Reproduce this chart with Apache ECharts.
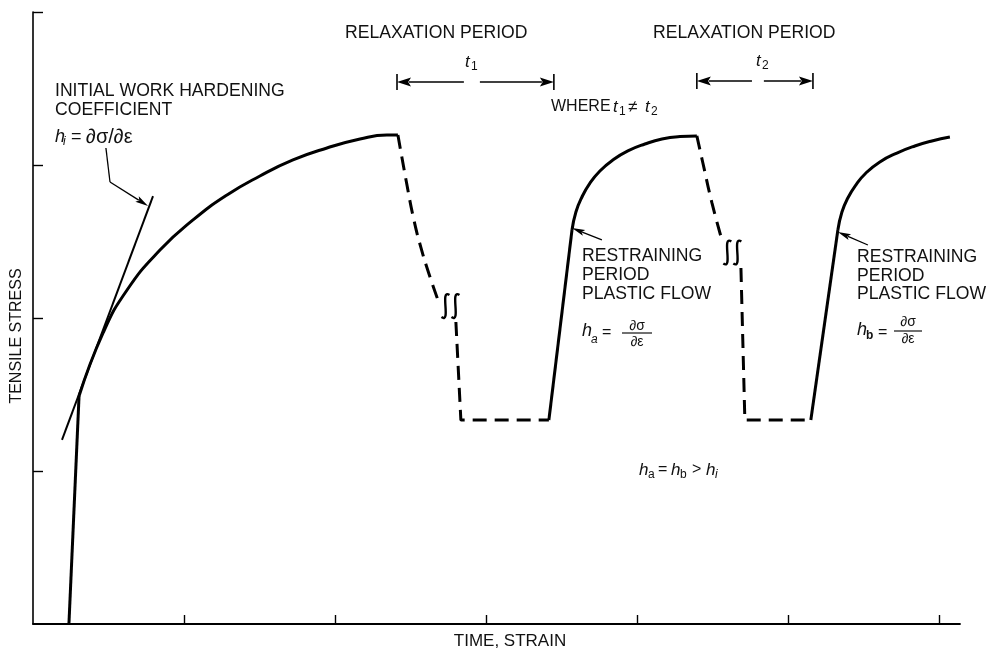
<!DOCTYPE html>
<html><head><meta charset="utf-8">
<script src="https://cdn.jsdelivr.net/npm/echarts@6/dist/echarts.min.js"></script>
<style>html,body{margin:0;padding:0;background:#fff}#c{width:986px;height:651px}</style>
</head><body><div id="c"></div>
<script>
// ---- data (axis units: x = time/strain, y = tensile stress) ----
const xTicks = [1, 2, 3, 4, 5, 6];
const yTicks = [1, 2, 3, 4];
const rise1 = [[0.238, 0], [0.305, 1.490]];
const harden1 = [[0.305, 1.490], [0.464, 1.902], [0.623, 2.183], [0.841, 2.444], [1.060, 2.641], [1.285, 2.804], [1.503, 2.928], [1.722, 3.033], [1.947, 3.111], [2.166, 3.170], [2.344, 3.196], [2.417, 3.196]];
const relax1Drop = [[2.417, 3.196], [2.477, 2.869], [2.523, 2.641], [2.570, 2.458], [2.623, 2.288], [2.682, 2.118]];
const relax1Hold = [[2.801, 1.974], [2.834, 1.333], [3.417, 1.333]];
const reload1 = [[3.417, 1.333], [3.570, 2.575]];
const harden2 = [[3.570, 2.575], [3.596, 2.693], [3.636, 2.791], [3.689, 2.882], [3.755, 2.961], [3.841, 3.033], [3.940, 3.092], [4.053, 3.137], [4.166, 3.170], [4.285, 3.186], [4.397, 3.190]];
const relax2Drop = [[4.397, 3.190], [4.437, 3.013], [4.497, 2.752], [4.563, 2.510]];
const relax2Hold = [[4.689, 2.327], [4.715, 1.333], [5.152, 1.333]];
const reload2 = [[5.152, 1.333], [5.331, 2.575]];
const harden3 = [[5.331, 2.575], [5.358, 2.693], [5.397, 2.784], [5.450, 2.869], [5.517, 2.948], [5.609, 3.020], [5.722, 3.078], [5.841, 3.124], [5.954, 3.157], [6.073, 3.183]];
const tangent = [[0.192, 1.203], [0.795, 2.797]];
const leader = [[0.483, 3.111], [0.510, 2.889]];
// annotation arrows [x1, y1, x2(tip), y2(tip)]
const leaderArrows = [[0.510, 2.889, 0.762, 2.732], [3.768, 2.510, 3.570, 2.588], [5.530, 2.477, 5.331, 2.562]];
const periodArrows = [[2.854, 3.542, 2.411, 3.542], [2.960, 3.542, 3.450, 3.542], [4.762, 3.549, 4.397, 3.549], [4.841, 3.549, 5.166, 3.549]];
const periodBars = [[2.411, 3.490, 2.411, 3.595], [3.450, 3.490, 3.450, 3.595], [4.397, 3.497, 4.397, 3.602], [5.166, 3.497, 5.166, 3.602]];
const breakMarks = [[2.765, 2.078], [4.632, 2.428]];

const FONT = "'Liberation Sans', Arial, sans-serif";
const INK = '#111';

function solid(data, smooth, w) {
  return { type: 'line', data, smooth: smooth || false, symbol: 'none', silent: true,
    lineStyle: { color: '#000', width: w || 3 }, z: 3 };
}
function dashed(data, smooth) {
  return { type: 'line', data, smooth: smooth || false, symbol: 'none', silent: true,
    lineStyle: { color: '#000', width: 3, type: [14, 8] }, z: 3 };
}
function arrowRender(hl, hw, lw) {
  return function (params, api) {
    const a = api.coord([api.value(0), api.value(1)]);
    const b = api.coord([api.value(2), api.value(3)]);
    const dx = b[0] - a[0], dy = b[1] - a[1], L = Math.hypot(dx, dy);
    const ux = dx / L, uy = dy / L;
    const bx = b[0] - ux * hl, by = b[1] - uy * hl;
    return { type: 'group', children: [
      { type: 'line', shape: { x1: a[0], y1: a[1], x2: bx + ux * 2, y2: by + uy * 2 }, style: { stroke: '#000', lineWidth: lw } },
      { type: 'polygon', shape: { points: [[b[0], b[1]], [bx - uy * hw, by + ux * hw], [b[0] - ux * hl * 0.8, b[1] - uy * hl * 0.8], [bx + uy * hw, by - ux * hw]] }, style: { fill: '#000' } }
    ] };
  };
}
function barRender(params, api) {
  const a = api.coord([api.value(0), api.value(1)]);
  const b = api.coord([api.value(2), api.value(3)]);
  return { type: 'line', shape: { x1: a[0], y1: a[1], x2: b[0], y2: b[1] }, style: { stroke: '#000', lineWidth: 1.6 } };
}
function breakRender(params, api) {
  const c = api.coord([api.value(0), api.value(1)]);
  const kids = [];
  [-5, 5].forEach(function (off) {
    const cx = c[0] + off, cy = c[1];
    kids.push({ type: 'bezierCurve', shape: { x1: cx + 4, y1: cy - 11, cpx1: cx - 6, cpy1: cy - 18, cpx2: cx + 6, cpy2: cy + 18, x2: cx - 4, y2: cy + 11 },
      style: { stroke: '#000', lineWidth: 2.4, fill: null } });
  });
  return { type: 'group', children: kids };
}

const series = [
  solid(rise1), solid(harden1, 0.5), dashed(relax1Drop, 0.5), dashed(relax1Hold),
  solid(reload1), solid(harden2, 0.5), dashed(relax2Drop, 0.5), dashed(relax2Hold),
  solid(reload2), solid(harden3, 0.5), solid(tangent, false, 2), solid(leader, false, 1.3),
  { type: 'custom', data: leaderArrows, renderItem: arrowRender(13, 3.2, 1.3), silent: true, encode: { x: [0, 2], y: [1, 3] }, z: 4 },
  { type: 'custom', data: periodArrows, renderItem: arrowRender(14, 4.5, 1.4), silent: true, encode: { x: [0, 2], y: [1, 3] }, z: 4 },
  { type: 'custom', data: periodBars, renderItem: barRender, silent: true, encode: { x: [0, 2], y: [1, 3] }, z: 4 },
  { type: 'custom', data: breakMarks, renderItem: breakRender, silent: true, encode: { x: 0, y: 1 }, z: 4 }
];

function T(x, y, text, font, extra) {
  return Object.assign({ type: 'text', x: x, y: y, silent: true, z: 10,
    style: { text: text, font: font, fill: INK, align: 'left', verticalAlign: 'middle' } }, extra || {});
}
const F17 = '17.6px ' + FONT, F16 = '16px ' + FONT, I18 = 'italic 18px ' + FONT, I17 = 'italic 17px ' + FONT,
  S11 = 'italic 12px ' + FONT, F14 = '14px ' + FONT, N12 = '12px ' + FONT;
function hline(x1, x2, y) { return { type: 'line', silent: true, z: 10, shape: { x1: x1, y1: y, x2: x2, y2: y }, style: { stroke: INK, lineWidth: 1.2 } }; }
function C(x, y, text, font, extra) { const t = T(x, y, text, font, extra); t.style.align = 'center'; return t; }

const graphics = [
  T(55, 91, 'INITIAL WORK HARDENING', F17),
  T(55, 110, 'COEFFICIENT', F17),
  T(55, 137, 'h', I18), T(63, 142, 'i', S11), T(71, 137, '=', '18px ' + FONT), T(86, 137, '∂σ/∂ε', '20px ' + FONT),
  T(345, 33, 'RELAXATION PERIOD', F17),
  T(653, 33, 'RELAXATION PERIOD', F17),
  T(465, 62, 't', I17), T(471, 67, '1', N12),
  T(756, 61, 't', I17), T(762, 66, '2', N12),
  T(551, 107, 'WHERE', F16), T(613, 107, 't', I17), T(619, 112, '1', N12),
  T(628, 107, '≠', '17px ' + FONT), T(645, 107, 't', I17), T(651, 112, '2', N12),
  T(582, 256, 'RESTRAINING', F17), T(582, 275, 'PERIOD', F17), T(582, 294, 'PLASTIC FLOW', F17),
  T(857, 257, 'RESTRAINING', F17), T(857, 276, 'PERIOD', F17), T(857, 294, 'PLASTIC FLOW', F17),
  T(582, 331, 'h', I18), T(591, 340, 'a', 'italic 12px ' + FONT), T(602, 333, '=', '16px ' + FONT),
  C(637, 326, '∂σ', F14), hline(622, 652, 333), C(637, 342, '∂ε', F14),
  T(857, 330, 'h', I18), T(866, 336, 'b', 'bold 12px ' + FONT), T(878, 333, '=', '16px ' + FONT),
  C(908, 322, '∂σ', F14), hline(894, 922, 331), C(908, 339, '∂ε', F14),
  T(639, 470, 'h', I17), T(648, 475, 'a', N12), T(658, 470, '=', '16px ' + FONT),
  T(671, 470, 'h', I17), T(680, 475, 'b', N12), T(692, 470, '>', '16px ' + FONT),
  T(706, 470, 'h', I17), T(715, 475, 'i', S11),
  C(510, 641, 'TIME, STRAIN', '17px ' + FONT),
  C(17, 336, 'TENSILE STRESS', '16px ' + FONT, { rotation: Math.PI / 2 })
];

const chart = echarts.init(document.getElementById('c'), null, { renderer: 'canvas' });
chart.setOption({
  animation: false,
  backgroundColor: '#fff',
  grid: { left: 33, right: 26, top: 12, bottom: 27, containLabel: false },
  xAxis: { type: 'value', min: 0, max: 6.14, interval: 1,
    axisLine: { show: true, lineStyle: { color: '#000', width: 1.8 } },
    axisTick: { show: true, inside: true, length: 9, customValues: xTicks, lineStyle: { color: '#000', width: 1.4 } },
    axisLabel: { show: false }, splitLine: { show: false } },
  yAxis: { type: 'value', min: 0, max: 4, interval: 1,
    axisLine: { show: true, lineStyle: { color: '#000', width: 1.6 } },
    axisTick: { show: true, inside: true, length: 10, customValues: yTicks, lineStyle: { color: '#000', width: 1.4 } },
    axisLabel: { show: false }, splitLine: { show: false } },
  series: series,
  graphic: graphics
});
</script></body></html>
